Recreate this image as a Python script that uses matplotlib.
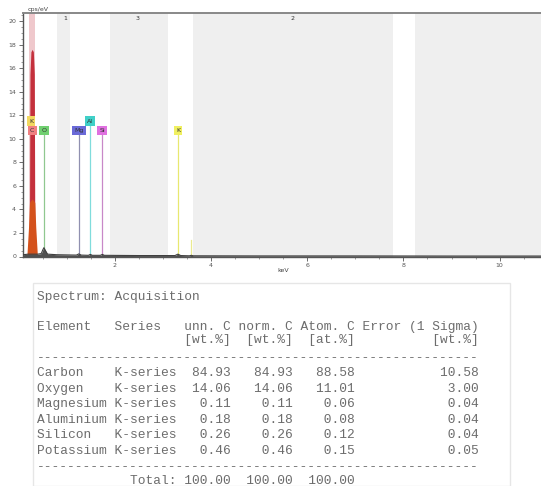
import numpy as np
import matplotlib
matplotlib.use('Agg')
import matplotlib.pyplot as plt
from matplotlib.patches import Rectangle

# ---- Du lieu pho EDS (doc tu hinh) ----
# vet pho nen (mau xam dam)
spec_kev = [0.09, 0.20, 0.40, 0.47, 0.50, 0.525, 0.55, 0.60, 0.80, 1.20, 1.25, 1.30,
            1.45, 1.49, 1.53, 1.70, 1.74, 1.78, 2.50, 3.25, 3.31, 3.37, 3.55, 3.59,
            3.63, 5.00, 7.00, 9.00, 10.90]
spec_cps = [0.15, 0.20, 0.20, 0.25, 0.55, 0.75, 0.55, 0.20, 0.15, 0.12, 0.22, 0.12,
            0.10, 0.18, 0.10, 0.10, 0.18, 0.10, 0.08, 0.08, 0.20, 0.08, 0.06, 0.10,
            0.06, 0.05, 0.05, 0.04, 0.04]
# dinh Carbon (do)
c_peak_kev = [0.210, 0.225, 0.235, 0.255, 0.280, 0.305, 0.325, 0.335, 0.350]
c_peak_cps = [0.0, 3.0, 15.5, 17.4, 17.6, 17.4, 15.5, 3.0, 0.0]
# phan chan dinh (cam)
base_peak_kev = [0.170, 0.205, 0.225, 0.280, 0.335, 0.355, 0.390]
base_peak_cps = [0.0, 2.5, 4.6, 4.9, 4.6, 2.5, 0.0]

# vach danh dau nguyen to
marker_names = ['K', 'C', 'O', 'Mg', 'Al', 'Si', 'K']
marker_kev = [0.26, 0.28, 0.525, 1.253, 1.486, 1.740, 3.312]
marker_y = [11.5, 10.7, 10.7, 10.7, 11.5, 10.7, 10.7]
marker_colors = ['#f2d860', '#f08080', '#70d070', '#6a6ad8', '#40d0c8', '#e070e0', '#f0f060']
line_colors = ['#e8c860', '#d05030', '#90c890', '#9090b0', '#80dcdc', '#c888c8', '#e8e870']
kb_kev = [3.59]
kb_top = [1.4]

# vung nen trang
white_bands = [(0.09, 0.80), (1.07, 1.90), (3.10, 3.62), (7.78, 8.24)]
region_labels = ['1', '3', '2']
region_kev = [0.96, 2.48, 5.70]

# ---- Bang ket qua ----
elements = ['Carbon', 'Oxygen', 'Magnesium', 'Aluminium', 'Silicon', 'Potassium']
series = ['K-series'] * 6
unn_c = [84.93, 14.06, 0.11, 0.18, 0.26, 0.46]
norm_c = [84.93, 14.06, 0.11, 0.18, 0.26, 0.46]
atom_c = [88.58, 11.01, 0.06, 0.08, 0.12, 0.15]
error_1s = [10.58, 3.00, 0.04, 0.04, 0.04, 0.05]
totals = [100.00, 100.00, 100.00]

fig = plt.figure(figsize=(5.41, 4.86), dpi=100)
fig.patch.set_facecolor('white')

ax = fig.add_axes([23 / 541, 1 - 256.5 / 486, 1 - 23 / 541, 243 / 486])
ax.set_facecolor('#efefef')
ax.set_xlim(0.09, 10.86)
ax.set_ylim(0, 20.65)

for a, b in white_bands:
    ax.axvspan(a, b, color='white', zorder=0, lw=0)

# cot C nhat phia tren
ax.axvspan(0.225, 0.335, color='#efc8cc', zorder=1, lw=0)

# duong vach nguyen to
for k, y, lc in zip(marker_kev, marker_y, line_colors):
    ax.plot([k, k], [0, y], color=lc, lw=0.9, zorder=2)
for k, t in zip(kb_kev, kb_top):
    ax.plot([k, k], [0, t], color='#eaea90', lw=0.9, zorder=2)

ax.fill_between(c_peak_kev, c_peak_cps, color='#c4303c', lw=0, zorder=3)
ax.fill_between(base_peak_kev, base_peak_cps, color='#d4521c', lw=0, zorder=4)
ax.fill_between(spec_kev, spec_cps, color='#505050', lw=0, zorder=4)
ax.plot(spec_kev, spec_cps, color='#404040', lw=0.8, zorder=5)

for name, k, y, fc in zip(marker_names, marker_kev, marker_y, marker_colors):
    ax.text(k, y, name, fontsize=4.5, ha='center', va='center', color='#333333', zorder=6,
            bbox=dict(boxstyle='square,pad=0.35', fc=fc, ec='none'))

for lab, k in zip(region_labels, region_kev):
    ax.text(k, 20.2, lab, fontsize=4.5, ha='center', va='center', color='#333333')

ax.set_xticks([2, 4, 6, 8, 10])
ax.set_yticks(np.arange(0, 21, 2))
ax.set_xticks(np.arange(0.5, 10.9, 0.5), minor=True)
ax.set_yticks(np.arange(0, 20.6, 0.5), minor=True)
ax.tick_params(which='major', length=3, width=0.6, labelsize=4.5, colors='#555555', pad=2)
ax.tick_params(which='minor', length=1.5, width=0.5, colors='#777777')
for s in ['left', 'bottom']:
    ax.spines[s].set_color('#555555')
    ax.spines[s].set_linewidth(1.0)
ax.spines['top'].set_color('#888888')
ax.spines['top'].set_linewidth(1.4)
ax.spines['right'].set_visible(False)

fig.text(28 / 541, 1 - 10 / 486, 'cps/eV', fontsize=4.5, color='#444444', ha='left', va='center')
fig.text(283 / 541, 1 - 271 / 486, 'keV', fontsize=4.5, color='#444444', ha='center', va='center')

# khung bang
fig.patches.append(Rectangle((33 / 541, 0), (510 - 33) / 541, 1 - 283 / 486,
                             transform=fig.transFigure, fill=False, ec='#e6e6e6', lw=1.0))

rows = []
rows.append((297, 'Spectrum: Acquisition'))
rows.append((327, 'Element   Series   unn. C norm. C Atom. C Error (1 Sigma)'))
rows.append((340, ' ' * 19 + '[wt.%]  [wt.%]  [at.%]' + ' ' * 10 + '[wt.%]'))
rows.append((358, '-' * 57))
y0 = 373
for i in range(len(elements)):
    line = (f"{elements[i]:<10}{series[i]:<8}{unn_c[i]:>7.2f}{norm_c[i]:>8.2f}"
            f"{atom_c[i]:>8.2f}{error_1s[i]:>16.2f}")
    rows.append((y0 + i * 15.6, line))
rows.append((467, '-' * 57))
rows.append((481, ' ' * 12 + 'Total:' + f"{totals[0]:>7.2f}{totals[1]:>8.2f}{totals[2]:>8.2f}"))

for ypix, txt in rows:
    fig.text(37 / 541, 1 - ypix / 486, txt, family='Liberation Mono', fontsize=9.3,
             color='#6c6c6c', ha='left', va='center')

fig.savefig('out.png', dpi=100)
